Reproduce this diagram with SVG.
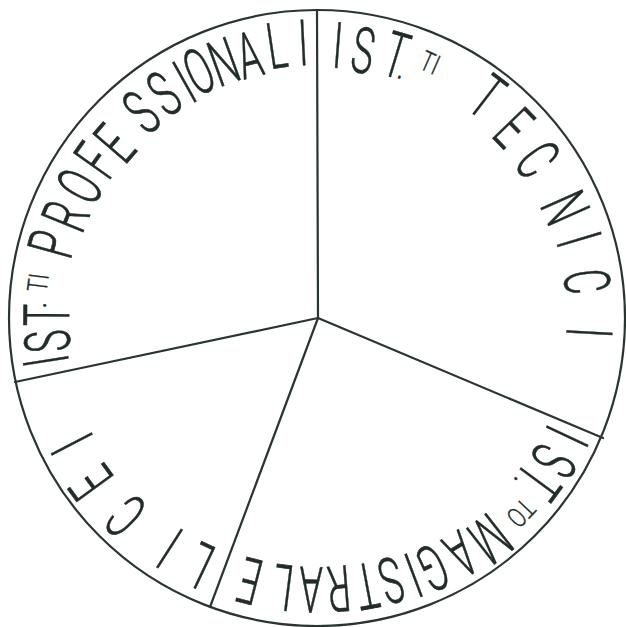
<svg xmlns="http://www.w3.org/2000/svg" width="626" height="627" viewBox="0 0 626 627">
<style>
.ln{fill:none;stroke:#2a3430;stroke-width:2.2;stroke-linecap:round}
.l{font-family:Roboto,"Liberation Sans",sans-serif;font-weight:300;font-size:64px;fill:#222c28;stroke:#222c28;stroke-width:0.6;text-anchor:middle;dominant-baseline:central}
.s{font-size:28px;stroke-width:0.3}
.d{font-size:34px}
</style>
<rect width="626" height="627" fill="#fff"/>
<g id="outline"><circle class="ln" cx="317" cy="318" r="308"/></g>
<g id="connectors">
<line class="ln" x1="318" y1="318" x2="317" y2="10"/>
<line class="ln" x1="318" y1="318" x2="15" y2="382"/>
<line class="ln" x1="318" y1="318" x2="603" y2="438"/>
<line class="ln" x1="318" y1="318" x2="210" y2="607"/>
</g>
<g transform="translate(317 318)">
<g id="ist-professionali" class="l">
<text transform="rotate(261) translate(0 -274) scale(.58 1)">I</text>
<text transform="rotate(265.1) translate(0 -270) scale(.58 1)">S</text>
<text transform="rotate(270.6) translate(0 -270) scale(.58 1)">T</text>
<text class="d" transform="rotate(272.7) translate(0 -283) scale(.8 1)">.</text>
<text class="s" transform="rotate(277.2) translate(0 -281) scale(.75 1)">TI</text>
<text transform="rotate(285.6) translate(0 -275) scale(.58 1)">P</text>
<text transform="rotate(292.1) translate(0 -271) scale(.58 1)">R</text>
<text transform="rotate(299.1) translate(0 -271) scale(.58 1)">O</text>
<text transform="rotate(305.5) translate(0 -271) scale(.58 1)">F</text>
<text transform="rotate(310.8) translate(0 -267) scale(.58 1)">E</text>
<text transform="rotate(319.5) translate(0 -270) scale(.58 1)">S</text>
<text transform="rotate(325.7) translate(0 -271) scale(.58 1)">S</text>
<text transform="rotate(330.7) translate(0 -270) scale(.58 1)">I</text>
<text transform="rotate(334.4) translate(0 -273) scale(.58 1)">O</text>
<text transform="rotate(340) translate(0 -272) scale(.58 1)">N</text>
<text transform="rotate(345.5) translate(0 -271) scale(.58 1)">A</text>
<text transform="rotate(351.6) translate(0 -275) scale(.58 1)">L</text>
<text transform="rotate(357.1) translate(0 -275) scale(.58 1)">I</text>
</g>
<g id="ist-tecnici" class="l">
<text transform="rotate(4.4) translate(0 -273) scale(.58 1)">I</text>
<text transform="rotate(9.8) translate(0 -271) scale(.58 1)">S</text>
<text transform="rotate(16.8) translate(0 -274) scale(.58 1)">T</text>
<text class="d" transform="rotate(18.9) translate(0 -265) scale(.8 1)">.</text>
<text class="s" transform="rotate(23.9) translate(0 -279) scale(.75 1)">TI</text>
<text transform="rotate(37.5) translate(0 -279) scale(.58 1)">T</text>
<text transform="rotate(45.9) translate(0 -273) scale(.58 1)">E</text>
<text transform="rotate(54.3) translate(0 -271) scale(.58 1)">C</text>
<text transform="rotate(66.1) translate(0 -271) scale(.58 1)">N</text>
<text transform="rotate(73.3) translate(0 -273) scale(.58 1)">I</text>
<text transform="rotate(82.3) translate(0 -272) scale(.58 1)">C</text>
<text transform="rotate(93.1) translate(0 -272) scale(.58 1)">I</text>
</g>
<g id="ist-magistrale" class="l">
<text transform="rotate(115.3) translate(0 -276) scale(.58 1)">I</text>
<text transform="rotate(121.1) translate(0 -276) scale(.58 1)">S</text>
<text transform="rotate(126.5) translate(0 -275) scale(.58 1)">T</text>
<text class="d" transform="rotate(129) translate(0 -266) scale(.8 1)">.</text>
<text class="s" transform="rotate(133.7) translate(0 -282) scale(.75 1)">TO</text>
<text transform="rotate(141.9) translate(0 -280) scale(.58 1)">M</text>
<text transform="rotate(148.6) translate(0 -276) scale(.58 1)">A</text>
<text transform="rotate(155.1) translate(0 -275) scale(.58 1)">G</text>
<text transform="rotate(159.4) translate(0 -274) scale(.58 1)">I</text>
<text transform="rotate(164.1) translate(0 -272) scale(.58 1)">S</text>
<text transform="rotate(169.4) translate(0 -272) scale(.58 1)">T</text>
<text transform="rotate(175.4) translate(0 -271) scale(.58 1)">R</text>
<text transform="rotate(181.3) translate(0 -271) scale(.58 1)">A</text>
<text transform="rotate(187.2) translate(0 -271) scale(.58 1)">L</text>
<text transform="rotate(194.3) translate(0 -271) scale(.58 1)">E</text>
</g>
<g id="licei" class="l">
<text transform="rotate(205.4) translate(0 -273) scale(.58 1)">L</text>
<text transform="rotate(212.6) translate(0 -273) scale(.58 1)">I</text>
<text transform="rotate(224) translate(0 -275) scale(.58 1)">C</text>
<text transform="rotate(233.9) translate(0 -279) scale(.58 1)">E</text>
<text transform="rotate(242.8) translate(0 -275) scale(.58 1)">I</text>
</g>
</g>
</svg>
